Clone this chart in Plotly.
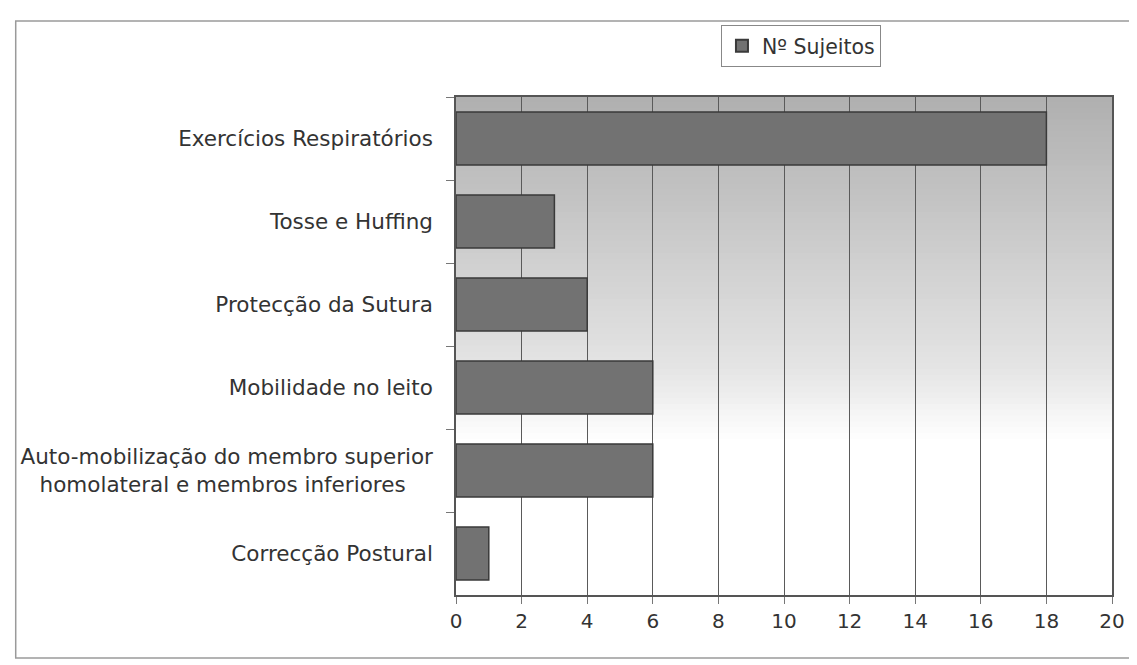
import plotly.graph_objects as go

NB = "\u00a0"
categories = [
    "Exercícios Respiratórios",
    "Tosse e Huffing",
    "Protecção da Sutura",
    "Mobilidade no leito",
    "Auto-mobilização do membro superior<br>homolateral e membros inferiores" + NB * 4,
    "Correcção Postural",
]
values = [18, 3, 4, 6, 6, 1]
series_name = "Nº Sujeitos"
x_ticks = list(range(0, 21, 2))

# page is drawn with an 8px body margin, so work in figure coordinates
OFF = 8
W, H = 1129, 657
ML, MT = 456 - OFF, 97 - OFF
PR, PB = 1122 - OFF, 595 - OFF
MR, MB = W - PR, H - PB
PW = PR - ML
PH = PB - MT

def px_x(p):
    return (p - OFF - ML) / PW

def px_y(p):
    return (PB - (p - OFF)) / PH

fig = go.Figure()
fig.add_trace(go.Bar(
    x=values, y=categories, orientation="h", name=series_name,
    marker=dict(color="#727272", line=dict(color="#3a3a3a", width=1.5)),
    showlegend=True,
))

shapes = []
# vertical gradient background (gray at top -> white lower down)
n = 60
top, bottom = 1.0, 0.30
for i in range(n):
    y1 = top - (top - bottom) * i / n
    y0 = top - (top - bottom) * (i + 1) / n
    t = i / (n - 1)
    if t < 0.78:
        c = 176 + (228 - 176) * (t / 0.78)
    else:
        c = 228 + (255 - 228) * ((t - 0.78) / 0.22)
    c = int(round(c))
    shapes.append(dict(type="rect", xref="x domain", yref="y domain",
                       x0=0, x1=1, y0=y0, y1=y1 + 0.002, layer="below",
                       line=dict(width=0), fillcolor=f"rgb({c},{c},{c})"))
# outer chart frame (its right side runs off the page)
fx0, fx1 = px_x(9), px_x(1160)
fy0, fy1 = px_y(658), px_y(21)
shapes.append(dict(type="path", xref="paper", yref="paper",
                   path=f"M {fx1} {fy1} L {fx0} {fy1} L {fx0} {fy0} L {fx1} {fy0}",
                   line=dict(color="#9a9a9a", width=1.5), layer="below"))

fig.update_layout(
    width=W, height=H,
    margin=dict(l=ML, r=MR, t=MT, b=MB),
    paper_bgcolor="white", plot_bgcolor="white",
    font=dict(family="DejaVu Sans", size=21.5, color="#333333"),
    bargap=0.36,
    shapes=shapes,
    showlegend=True,
    legend=dict(x=px_x(725), y=px_y(25), xanchor="left", yanchor="top",
                bgcolor="white", bordercolor="#888888", borderwidth=1,
                font=dict(size=20.5, color="#333333"),
                itemsizing="constant"),
    xaxis=dict(range=[0, 20], tickvals=x_ticks, ticktext=[str(v) for v in x_ticks],
               showgrid=True, gridcolor="#5a5a5a", gridwidth=1,
               showline=True, linecolor="#555555", linewidth=1.5, mirror=True,
               ticks="outside", ticklen=7, tickcolor="#777777",
               zeroline=False, tickfont=dict(size=20)),
    yaxis=dict(autorange="reversed", showgrid=False,
               showline=True, linecolor="#555555", linewidth=1.5, mirror=True,
               ticks="outside", ticklen=8, tickcolor="#777777", tickson="boundaries",
               ticklabelstandoff=17, tickfont=dict(size=21.5)),
)

fig.write_html("out.html")
